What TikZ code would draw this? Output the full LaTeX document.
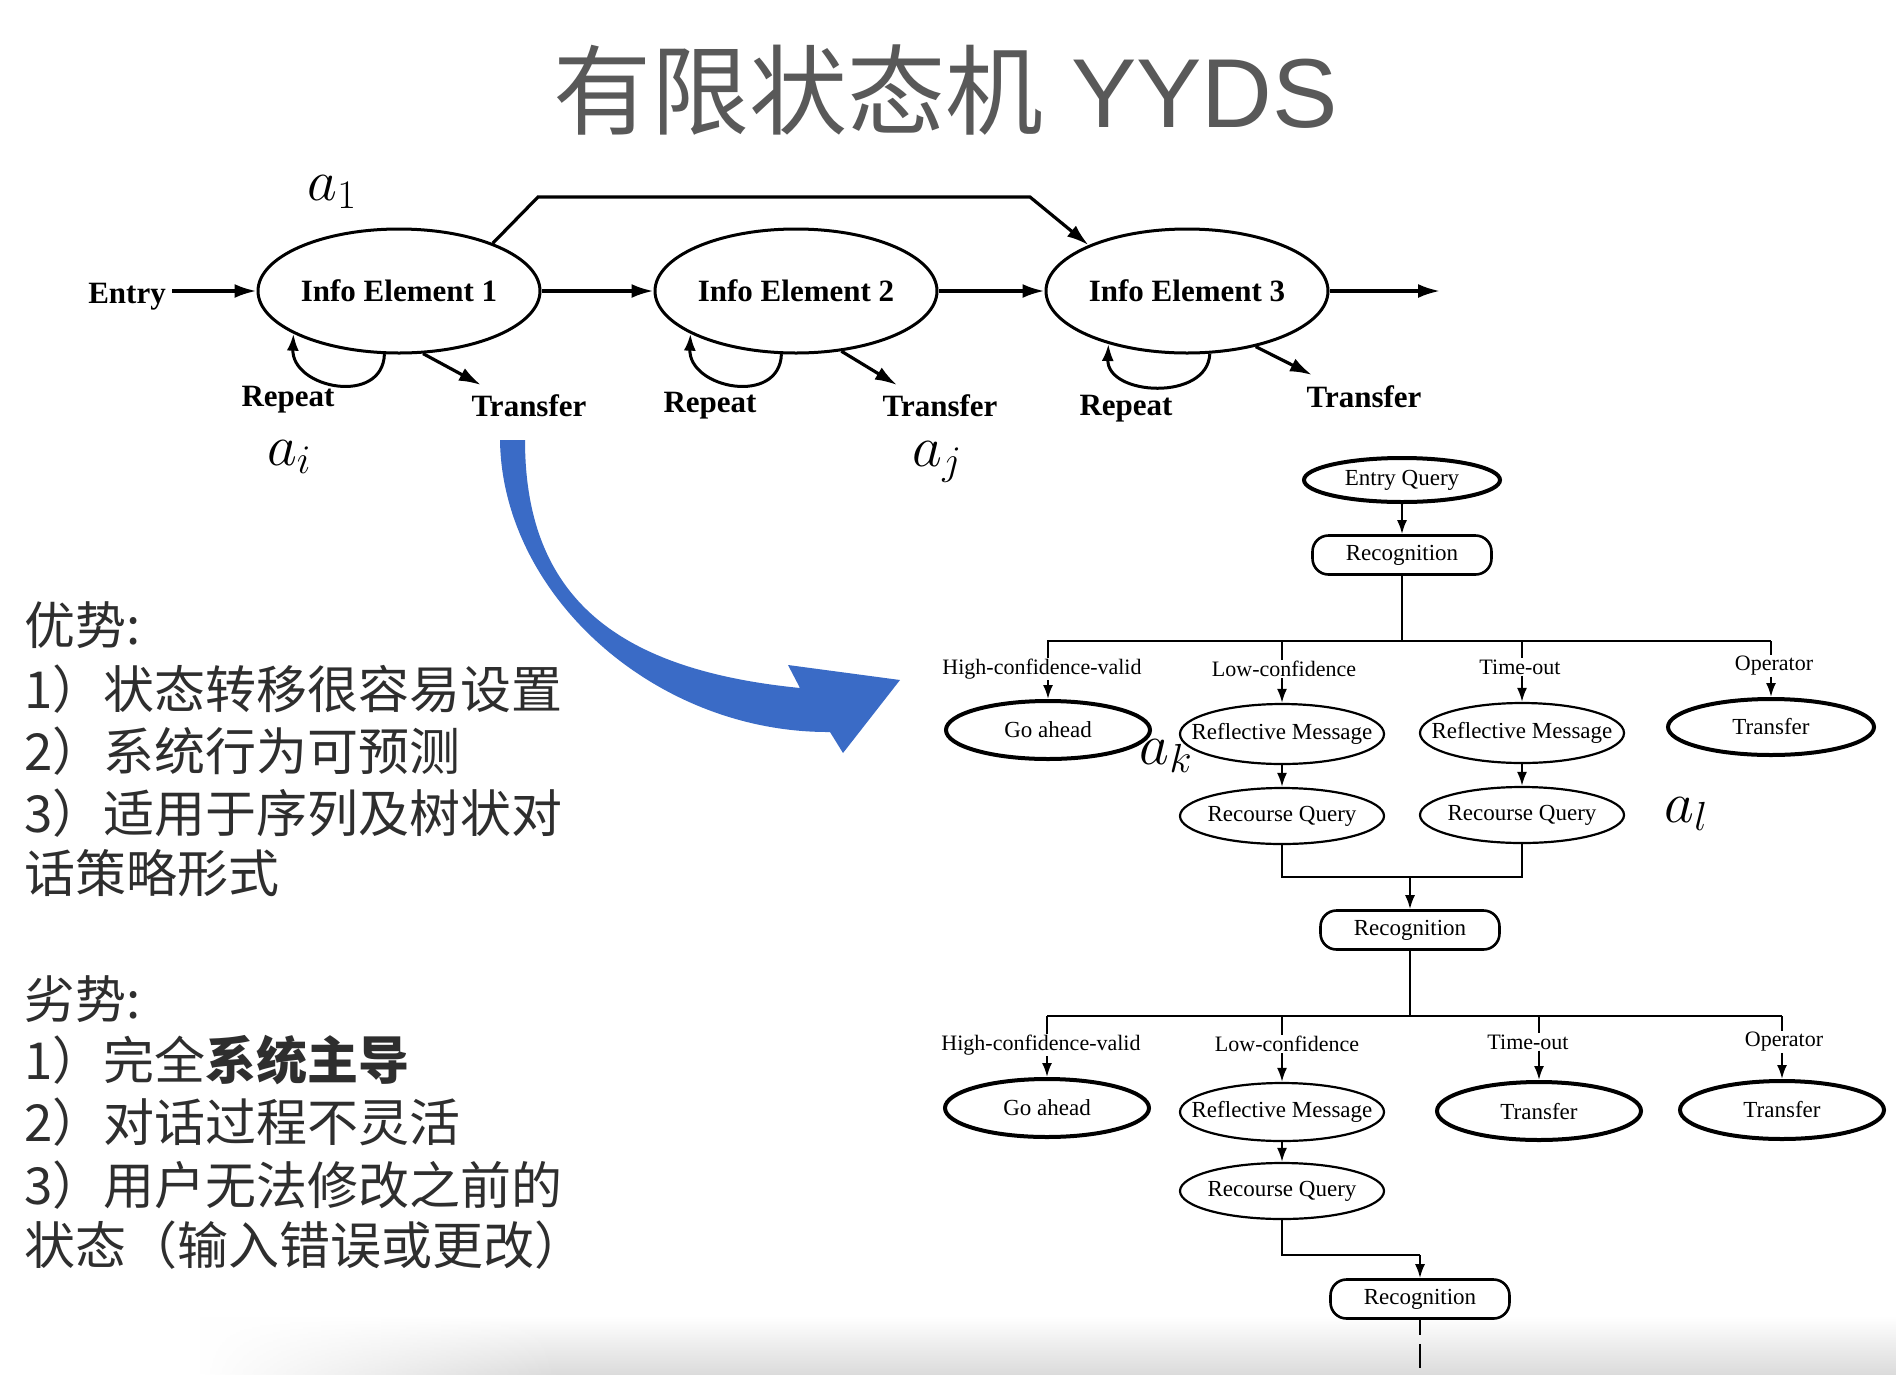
\RequirePackage{fix-cm}
\documentclass[tikz,border=0pt]{standalone}
\usepackage{fontspec}
\setmainfont{Liberation Serif}
\newfontfamily\cjk{Noto Sans CJK SC}
\newfontfamily\sanslat{Liberation Sans}
\usetikzlibrary{shapes.geometric,arrows.meta,calc,fadings}
\definecolor{titlegray}{HTML}{595959}
\definecolor{txtgray}{HTML}{2E2E2E}
\definecolor{arrowblue}{HTML}{3A6BC6}
\tikzfading[name=fadeinleft, left color=transparent!100, right color=transparent!0]
\begin{document}
\begin{tikzpicture}[x=1pt,y=-1pt,
  info/.style={ellipse,draw,line width=3pt,minimum width=282pt,minimum height=124pt,inner sep=0pt,font=\fontsize{31}{34}\selectfont\bfseries},
  toplbl/.style={font=\fontsize{31}{34}\selectfont\bfseries,inner sep=0pt},
  toparr/.style={line width=3.2pt,-{Latex[length=22pt,width=14pt]}},
  looparr/.style={line width=3pt,-{Latex[length=17pt,width=12pt]}},
  mathlbl/.style={font=\fontsize{58}{62}\selectfont,inner sep=0pt},
  fthick/.style={ellipse,draw,line width=4pt,minimum width=204pt,minimum height=58pt,inner xsep=-45pt,inner ysep=-12pt,font=\fontsize{23}{26}\selectfont},
  fthin/.style={ellipse,draw,line width=2.2pt,minimum width=204pt,minimum height=58pt,inner xsep=-45pt,inner ysep=-12pt,font=\fontsize{23}{26}\selectfont},
  recog/.style={draw,line width=2.6pt,rounded corners=16pt,minimum width=179pt,minimum height=39pt,inner sep=0pt,font=\fontsize{23}{26}\selectfont},
  blbl/.style={font=\fontsize{22}{24}\selectfont,inner sep=1pt},
  farr/.style={line width=2.2pt,-{Latex[length=14pt,width=10pt]}},
  fline/.style={line width=2.2pt},
  cn/.style={anchor=west,inner sep=0pt,text=txtgray,font=\fontsize{51}{60}\selectfont\cjk},
]
\path[use as bounding box] (0,0) rectangle (1896,1374);
\fill[white] (0,0) rectangle (1896,1374);

% bottom shadow
\shade[top color=white, bottom color=black!14, path fading=fadeinleft] (200,1316) rectangle (560,1374);
\shade[top color=white, bottom color=black!14] (560,1316) rectangle (1896,1374);

% title
\node[anchor=base, inner sep=0pt, text=titlegray] (title) at (946,127)
  {\fontsize{98}{112}\selectfont\cjk 有限状态机\sanslat{} YYDS};

% ---------- top state diagram ----------
\node[info] (e1) at (399,291) {Info Element 1};
\node[info] (e2) at (796,291) {Info Element 2};
\node[info] (e3) at (1187,291) {Info Element 3};
\node[toplbl, anchor=base east] (entry) at (166,303) {Entry};
\coordinate (out) at (1440,291);

\draw[toparr] ([xshift=6pt]e1.west -| entry.east) -- (e1.west);
\draw[toparr] (e1.east) -- (e2.west);
\draw[toparr] (e2.east) -- (e3.west);
\draw[toparr] (e3.east) -- (out);

\coordinate (b1) at (538,197);
\coordinate (b2) at (1030,197);
\draw[toparr] (e1.27) -- (b1) -- (b2) -- (e3.155);

% repeat loops
\draw[looparr] (e1.257) .. controls ($(e1.257)+(-2,52)$) and ($(e1.202)+(-2,55)$) .. (e1.202);
\draw[looparr] (e2.257) .. controls ($(e2.257)+(-2,52)$) and ($(e2.202)+(-2,55)$) .. (e2.202);
\draw[looparr] (e3.290) .. controls ($(e3.290)+(-2,48)$) and ($(e3.214)+(-2,52)$) .. (e3.214);

% transfer arrows
\coordinate (t1) at (481,385);
\coordinate (t2) at (897,385);
\coordinate (t3) at (1312,375);
\draw[toparr] (e1.291) -- (t1);
\draw[toparr] (e2.307) -- (t2);
\draw[toparr] (e3.321) -- (t3);

\node[toplbl] (rp1) at (288,400) {Repeat};
\node[toplbl] (tf1) at (529,406) {Transfer};
\node[toplbl] (rp2) at (710,406) {Repeat};
\node[toplbl] (tf2) at (940,406) {Transfer};
\node[toplbl] (rp3) at (1126,409) {Repeat};
\node[toplbl] (tf3) at (1364,397) {Transfer};

\node[mathlbl] (a1) at (332,192) {$a_1$};
\node[mathlbl] (ai) at (289,457) {$a_i$};
\node[mathlbl] (aj) at (937,462) {$a_j$};
\node[mathlbl] (ak) at (1166,756) {$a_k$};
\node[mathlbl] (al) at (1686,814) {$a_l$};

% ---------- blue arrow ----------
\fill[arrowblue] (500,440) -- (525,440)
  .. controls (525,600) and (620,670) .. (800,688)
  -- (788,665) -- (900,680) -- (843,753) -- (830,732)
  .. controls (655,733) and (502,595) .. (500,440) -- cycle;

% ---------- left text ----------
\node[cn] (p0) at (24,625) {优势:};
\node[cn] (p1) at (24,689) {1）状态转移很容易设置};
\node[cn] (p2) at (24,751) {2）系统行为可预测};
\node[cn] (p3) at (24,813) {3）适用于序列及树状对};
\node[cn] (p4) at (24,873) {话策略形式};
\node[cn] (n0) at (24,999) {劣势:};
\node[cn] (n1) at (24,1060) {1）完全{\bfseries 系统主导}};
\node[cn] (n2) at (24,1122) {2）对话过程不灵活};
\node[cn] (n3) at (24,1185) {3）用户无法修改之前的};
\node[cn] (n4) at (24,1245) {状态（输入错误或更改）};

% ---------- flow chart ----------
\node[fthick, minimum width=196pt, minimum height=44pt] (eq) at (1402,480) {Entry Query};
\node[recog] (r1) at (1402,555) {Recognition};
\draw[farr] (eq.south) -- (r1.north);

\node[fthick] (g1) at (1048,730) {Go ahead};
\node[fthin, minimum height=60pt] (rm1) at (1282,734) {Reflective Message};
\node[fthin, minimum height=60pt] (rm2) at (1522,733) {Reflective Message};
\node[fthick, minimum width=206pt, minimum height=56pt] (tr1) at (1771,727) {Transfer};
\node[fthin, minimum height=56pt] (rq1) at (1282,816) {Recourse Query};
\node[fthin, minimum height=56pt] (rq2) at (1522,815) {Recourse Query};

\node[blbl] (l1) at (1042,669) {High-confidence-valid};
\node[blbl] (l2) at (1284,669) {Low-confidence};
\node[blbl] (l3) at (1520,667) {Time-out};
\node[blbl] (l4) at (1774,666) {Operator};

\coordinate (k1) at (1047,641);
\coordinate (k4) at (1771,641);
\draw[fline] (r1.south) -- (r1.south |- k1);
\draw[fline] (k1) -- (k4);
\foreach \e/\l in {g1/l1, rm1/l2, rm2/l3, tr1/l4}{
  \draw[fline] (\e.north |- k1) -- (\e.north |- \l.north);
  \draw[farr] (\e.north |- \l.south) -- (\e.north);
}
\draw[farr] (rm1.south) -- (rq1.north);
\draw[farr] (rm2.south) -- (rq2.north);

\node[recog] (r2) at (1410,930) {Recognition};
\coordinate (j1) at (1282,877);
\draw[fline] (rq1.south) -- (rq1.south |- j1) -- (rq2.south |- j1) -- (rq2.south);
\draw[farr] (r2.north |- j1) -- (r2.north);

\node[fthick] (g2) at (1047,1108) {Go ahead};
\node[fthin] (rm3) at (1282,1112) {Reflective Message};
\node[fthick] (tr2) at (1539,1111) {Transfer};
\node[fthick] (tr3) at (1782,1110) {Transfer};
\node[fthin, minimum height=56pt] (rq3) at (1282,1191) {Recourse Query};

\node[blbl] (m1) at (1041,1045) {High-confidence-valid};
\node[blbl] (m2) at (1287,1044) {Low-confidence};
\node[blbl] (m3) at (1528,1042) {Time-out};
\node[blbl] (m4) at (1784,1042) {Operator};

\coordinate (q1) at (1047,1016);
\coordinate (q4) at (1782,1016);
\draw[fline] (r2.south) -- (r2.south |- q1);
\draw[fline] (q1) -- (q4);
\foreach \e/\l in {g2/m1, rm3/m2, tr2/m3, tr3/m4}{
  \draw[fline] (\e.north |- q1) -- (\e.north |- \l.north);
  \draw[farr] (\e.north |- \l.south) -- (\e.north);
}
\draw[farr] (rm3.south) -- (rq3.north);

\node[recog] (r3) at (1420,1299) {Recognition};
\coordinate (j2) at (1282,1255);
\draw[fline] (rq3.south) -- (j2) -- (r3.north |- j2);
\draw[farr] (r3.north |- j2) -- (r3.north);
\coordinate (endd) at (1420,1368);
\draw[fline, dash pattern=on 15pt off 9pt on 40pt off 9pt] (r3.south) -- (endd);
\end{tikzpicture}
\end{document}
